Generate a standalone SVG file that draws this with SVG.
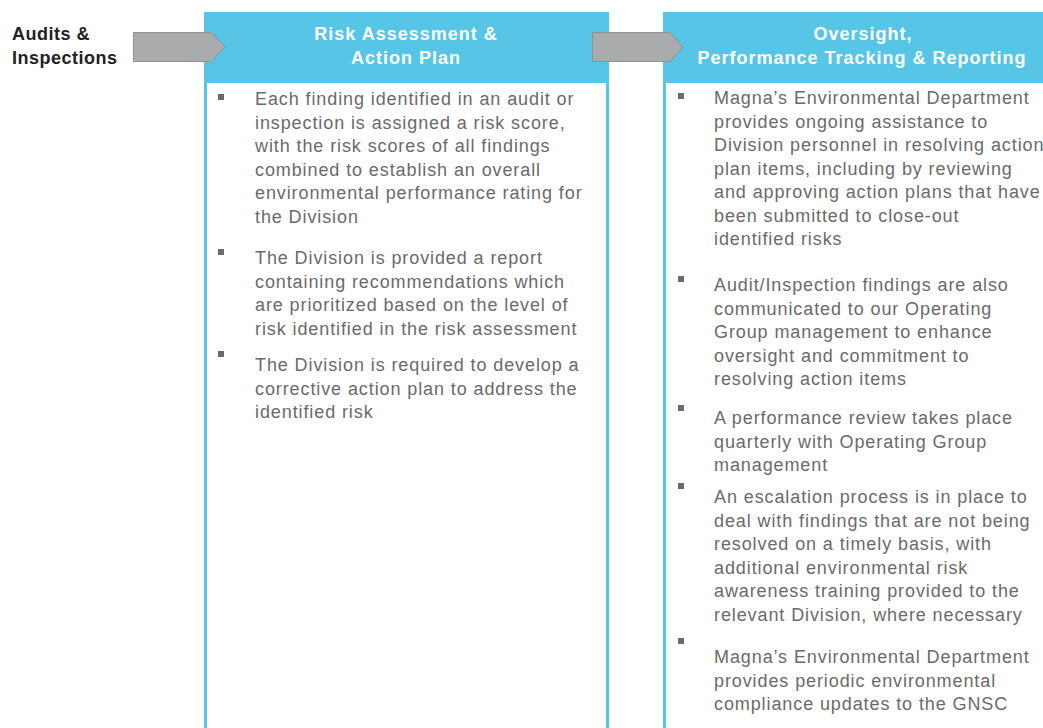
<svg xmlns="http://www.w3.org/2000/svg" width="1043" height="728" viewBox="0 0 1043 728">
<style>
.box{fill:#ffffff;stroke:#56c5e6;stroke-width:3}
.hdr{fill:#56c5e6}
.ht{font-family:"Liberation Sans",Arial,sans-serif;font-size:18px;font-weight:bold;fill:#ffffff;text-anchor:middle;letter-spacing:1px}
.lbl{font-family:"Liberation Sans",Arial,sans-serif;font-size:18px;font-weight:bold;fill:#222222;letter-spacing:0.5px}
.bt{font-family:"Liberation Sans",Arial,sans-serif;font-size:18px;fill:#6a6a6a;letter-spacing:0.9px}
.bul{fill:#6a6a6a}
.arr{fill:#a9abad;stroke:#8e9092;stroke-width:1}
</style>
<rect width="1043" height="728" fill="#ffffff"/>
<g id="audits">
<text class="lbl" x="12" y="40">Audits &amp;</text>
<text class="lbl" x="12" y="64">Inspections</text>
</g>
<g id="risk">
<rect class="box" x="205.5" y="13.5" width="402" height="730"/>
<rect class="hdr" x="204" y="12" width="405" height="71"/>
<text class="ht" x="406" y="40">Risk Assessment &amp;</text>
<text class="ht" x="406" y="64">Action Plan</text>
<rect class="bul" x="218" y="94" width="6" height="6"/>
<text class="bt" x="255" y="105">Each finding identified in an audit or</text>
<text class="bt" x="255" y="128.5">inspection is assigned a risk score,</text>
<text class="bt" x="255" y="152">with the risk scores of all findings</text>
<text class="bt" x="255" y="175.5">combined to establish an overall</text>
<text class="bt" x="255" y="199">environmental performance rating for</text>
<text class="bt" x="255" y="222.5">the Division</text>
<rect class="bul" x="218" y="249" width="6" height="6"/>
<text class="bt" x="255" y="264">The Division is provided a report</text>
<text class="bt" x="255" y="287.5">containing recommendations which</text>
<text class="bt" x="255" y="311">are prioritized based on the level of</text>
<text class="bt" x="255" y="334.5">risk identified in the risk assessment</text>
<rect class="bul" x="218" y="351" width="6" height="6"/>
<text class="bt" x="255" y="371">The Division is required to develop a</text>
<text class="bt" x="255" y="394.5">corrective action plan to address the</text>
<text class="bt" x="255" y="418">identified risk</text>
</g>
<g id="oversight">
<rect class="box" x="664.5" y="13.5" width="402" height="730"/>
<rect class="hdr" x="663" y="12" width="405" height="71"/>
<text class="ht" x="863" y="40">Oversight,</text>
<text class="ht" x="862" y="64">Performance Tracking &amp; Reporting</text>
<rect class="bul" x="678" y="93" width="6" height="6"/>
<text class="bt" x="714" y="104">Magna’s Environmental Department</text>
<text class="bt" x="714" y="127.5">provides ongoing assistance to</text>
<text class="bt" x="714" y="151">Division personnel in resolving action</text>
<text class="bt" x="714" y="174.5">plan items, including by reviewing</text>
<text class="bt" x="714" y="198">and approving action plans that have</text>
<text class="bt" x="714" y="221.5">been submitted to close-out</text>
<text class="bt" x="714" y="245">identified risks</text>
<rect class="bul" x="678" y="276" width="6" height="6"/>
<text class="bt" x="714" y="291">Audit/Inspection findings are also</text>
<text class="bt" x="714" y="314.5">communicated to our Operating</text>
<text class="bt" x="714" y="338">Group management to enhance</text>
<text class="bt" x="714" y="361.5">oversight and commitment to</text>
<text class="bt" x="714" y="385">resolving action items</text>
<rect class="bul" x="678" y="405" width="6" height="6"/>
<text class="bt" x="714" y="424">A performance review takes place</text>
<text class="bt" x="714" y="447.5">quarterly with Operating Group</text>
<text class="bt" x="714" y="471">management</text>
<rect class="bul" x="678" y="483" width="6" height="6"/>
<text class="bt" x="714" y="503">An escalation process is in place to</text>
<text class="bt" x="714" y="526.5">deal with findings that are not being</text>
<text class="bt" x="714" y="550">resolved on a timely basis, with</text>
<text class="bt" x="714" y="573.5">additional environmental risk</text>
<text class="bt" x="714" y="597">awareness training provided to the</text>
<text class="bt" x="714" y="620.5">relevant Division, where necessary</text>
<rect class="bul" x="678" y="638" width="6" height="6"/>
<text class="bt" x="714" y="663">Magna’s Environmental Department</text>
<text class="bt" x="714" y="686.5">provides periodic environmental</text>
<text class="bt" x="714" y="710">compliance updates to the GNSC</text>
</g>
<g id="connectors">
<polygon class="arr" points="133.5,32.5 211,32.5 225,47 211,61.5 133.5,61.5"/>
<polygon class="arr" points="592.5,32.5 670,32.5 683,47 670,61.5 592.5,61.5"/>
</g>
</svg>
